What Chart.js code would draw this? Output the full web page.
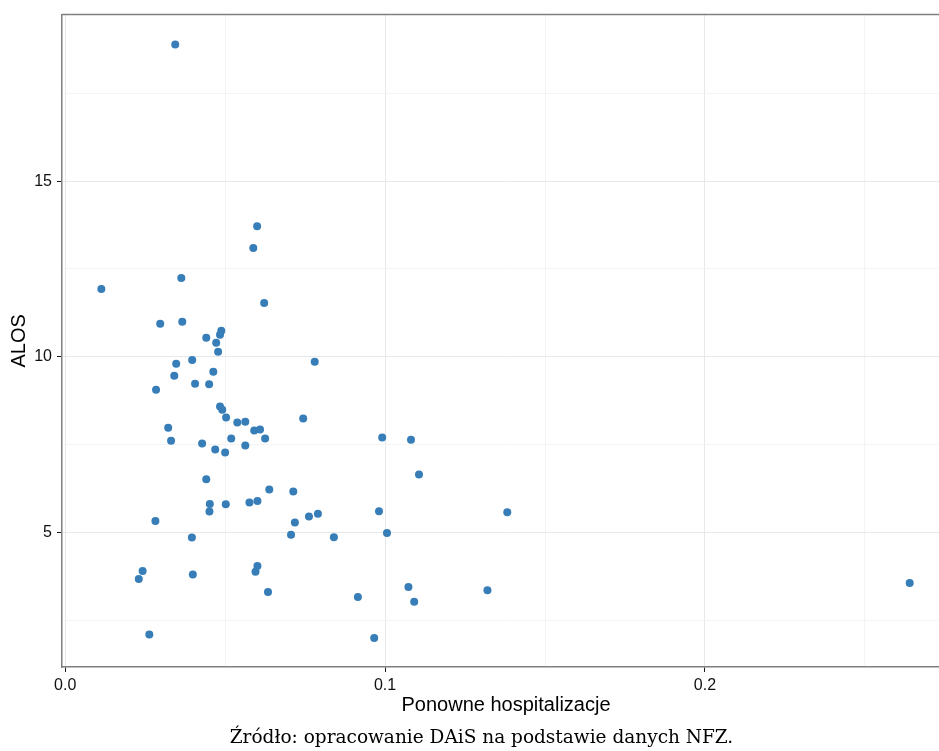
<!DOCTYPE html>
<html>
<head>
<meta charset="utf-8">
<script src="https://cdn.jsdelivr.net/npm/chart.js@4.4.0/dist/chart.umd.min.js"></script>
<style>
    body { margin: 0; background: #fff; overflow: hidden; }
    #wrap { position: relative; width: 939px; height: 751px; overflow: hidden; }
    #caption {
        position: absolute; top: 726px; left: 0; width: 963px;
        text-align: center; font-family: 'DejaVu Serif', serif;
        font-size: 18.5px; line-height: 22px; color: #000;
    }
</style>
</head>
<body>
<div id="wrap">
    <canvas id="chart" width="963" height="751"></canvas>
    <div id="caption">Źródło: opracowanie DAiS na podstawie danych NFZ.</div>
</div>
<script>
// Values: readmission share vs. average length of stay
const readmissions = [
    0.0344, 0.0113, 0.0363, 0.0600, 0.0588, 0.0622, 0.0297, 0.0366, 0.0441, 0.0488,
    0.0484, 0.0472, 0.0478, 0.0347, 0.0397, 0.0780, 0.0284, 0.0341, 0.0406, 0.0450,
    0.0463, 0.0484, 0.0491, 0.0503, 0.0538, 0.0563, 0.0744, 0.0591, 0.0609, 0.0625,
    0.0322, 0.0331, 0.0428, 0.0519, 0.0563, 0.0469, 0.0500, 0.0991, 0.1081, 0.1106,
    0.0441, 0.0638, 0.0713, 0.0452, 0.0451, 0.0502, 0.0576, 0.0601, 0.0981, 0.1382,
    0.0282, 0.0718, 0.0762, 0.0790, 0.0706, 0.0396, 0.0840, 0.1006, 0.0242, 0.0230,
    0.0399, 0.0601, 0.0595, 0.0634, 0.0915, 0.1073, 0.1091, 0.1320, 0.2640, 0.0263,
    0.0966
];
const alos = [
    18.89, 11.93, 12.24, 13.72, 13.10, 11.53, 10.94, 11.00, 10.54, 10.74,
    10.63, 10.40, 10.14, 9.80, 9.91, 9.86, 9.06, 9.46, 9.23, 9.22,
    9.57, 8.58, 8.49, 8.27, 8.13, 8.15, 8.24, 7.90, 7.93, 7.67,
    7.98, 7.61, 7.53, 7.67, 7.47, 7.36, 7.27, 7.70, 7.64, 6.65,
    6.51, 6.22, 6.16, 5.81, 5.59, 5.80, 5.85, 5.89, 5.60, 5.57,
    5.32, 5.28, 5.45, 5.53, 4.93, 4.85, 4.86, 4.98, 3.90, 3.67,
    3.80, 4.04, 3.88, 3.30, 3.16, 3.44, 3.02, 3.35, 3.56, 2.09,
    1.99
];

// Grid positions (major ones get labels)
const xTicks = [0, 0.05, 0.1, 0.15, 0.2, 0.25];
const yTicks = [2.5, 5, 7.5, 10, 12.5, 15, 17.5];
const xRange = [-0.001, 0.2766];
const yRange = [1.165, 19.744];

const isMajorX = v => Math.abs(v * 10 - Math.round(v * 10)) < 1e-6;
const isMajorY = v => Math.abs(v / 5 - Math.round(v / 5)) < 1e-6;

const tickFont = { family: 'Liberation Sans, Arial, sans-serif', size: 16 };
const titleFont = { family: 'Liberation Sans, Arial, sans-serif', size: 20 };

// ggplot-style top edge of the panel
const topBorder = {
    id: 'topBorder',
    afterDraw(chart) {
        const { ctx, chartArea } = chart;
        ctx.save();
        ctx.strokeStyle = '#7f7f7f';
        ctx.lineWidth = 1.5;
        ctx.beginPath();
        ctx.moveTo(chartArea.left, chartArea.top);
        ctx.lineTo(chartArea.right, chartArea.top);
        ctx.stroke();
        ctx.restore();
    }
};

const points = readmissions.map((x, i) => ({ x: x, y: alos[i] }));

new Chart(document.getElementById('chart'), {
    type: 'scatter',
    data: {
        datasets: [{
            data: points,
            backgroundColor: '#377EB8',
            borderWidth: 0,
            pointRadius: 4,
            pointHoverRadius: 4
        }]
    },
    plugins: [topBorder],
    options: {
        responsive: false,
        animation: false,
        layout: { padding: { top: 13, right: 13, bottom: 30, left: 0 } },
        plugins: {
            legend: { display: false },
            tooltip: { enabled: false }
        },
        scales: {
            x: {
                type: 'linear',
                min: xRange[0],
                max: xRange[1],
                afterBuildTicks: s => { s.ticks = xTicks.map(v => ({ value: v })); },
                afterFit: s => { s.height = 54; },
                ticks: {
                    autoSkip: false,
                    maxRotation: 0,
                    padding: 4,
                    color: '#111',
                    font: tickFont,
                    callback: v => isMajorX(v) ? v.toFixed(1) : ''
                },
                grid: {
                    color: c => isMajorX(c.tick.value) ? '#e8e8e8' : '#f4f4f4',
                    tickColor: c => isMajorX(c.tick.value) ? '#1a1a1a' : 'rgba(0,0,0,0)',
                    tickLength: 5
                },
                border: { color: '#7f7f7f', width: 1.5 },
                title: {
                    display: true,
                    text: 'Ponowne hospitalizacje',
                    color: '#000',
                    font: titleFont,
                    padding: { top: 0, bottom: 4 }
                }
            },
            y: {
                type: 'linear',
                min: yRange[0],
                max: yRange[1],
                afterBuildTicks: s => { s.ticks = yTicks.map(v => ({ value: v })); },
                afterFit: s => { s.width = 62; },
                ticks: {
                    padding: 5,
                    color: '#111',
                    font: tickFont,
                    callback: v => isMajorY(v) ? String(v) : ''
                },
                grid: {
                    color: c => isMajorY(c.tick.value) ? '#e8e8e8' : '#f4f4f4',
                    tickColor: c => isMajorY(c.tick.value) ? '#1a1a1a' : 'rgba(0,0,0,0)',
                    tickLength: 5
                },
                border: { color: '#7f7f7f', width: 1.5 },
                title: {
                    display: true,
                    text: 'ALOS',
                    color: '#000',
                    font: titleFont,
                    padding: { top: 7, bottom: 0 }
                }
            }
        }
    }
});
</script>
</body>
</html>
